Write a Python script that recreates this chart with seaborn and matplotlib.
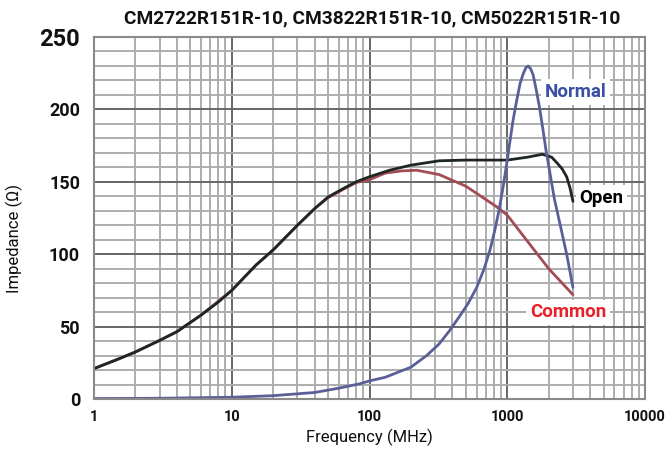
import numpy as np
import pandas as pd
import matplotlib
matplotlib.use("Agg")
import matplotlib.pyplot as plt
import seaborn as sns
from matplotlib.ticker import FixedLocator, NullFormatter

sns.set_theme(style="white")
plt.rcParams["font.family"] = ["Roboto", "DejaVu Sans"]

# Values
open_freq = [1, 1.5, 2, 3, 4, 6, 8, 10, 15, 20, 30, 40, 50, 65, 80, 100, 140,
             200, 320, 500, 1000, 1400, 1800, 2100, 2300, 2500, 2700, 2850,
             3000]
open_imp = [21, 27.5, 32.5, 40.5, 46.5, 58, 67, 75, 92.5, 103, 120, 131.5,
            139.5, 145.5, 150, 153.5, 158, 161.5, 164.5, 165, 165, 167, 169,
            167, 163, 159, 153.5, 146, 136.5]

common_freq = [1, 2, 3, 4, 6, 10, 15, 20, 30, 40, 50, 65, 80, 100, 130, 170,
               220, 320, 500, 830, 1000, 1400, 2000, 3000]
common_imp = [21, 32.5, 40.5, 46.5, 58, 75, 92.5, 103, 120, 131.5, 139, 145,
              149.5, 151.5, 156, 157.5, 158, 155, 147, 133, 127, 109, 90, 72]

normal_freq = [1, 3, 10, 20, 40, 60, 85, 100, 130, 200, 260, 320, 380, 450,
               520, 600, 680, 750, 810, 870, 935, 1000, 1050, 1100, 1170,
               1240, 1310, 1370, 1420, 1480, 1540, 1620, 1710, 1810, 1910,
               2050, 2200, 2400, 2700, 3000]
normal_imp = [0.3, 0.5, 1.2, 2.3, 4.5, 7.5, 10.5, 12.5, 15, 22, 30, 38, 47,
              57, 66, 77, 90, 103, 116, 130, 147, 165, 179, 192, 206, 218,
              225, 229, 230, 228, 224, 214, 202, 187, 172, 155, 138, 122, 100,
              77]

series_names = ["Common", "Open", "Normal"]
series_colors = {"Open": "#1f2723", "Common": "#a24c55", "Normal": "#5a5f98"}
label_colors = {"Open": "#000000", "Common": "#e8202a", "Normal": "#3a4fa3"}

x_ticks = [1, 10, 100, 1000, 10000]
y_ticks = [0, 50, 100, 150, 200, 250]

df = pd.concat([
    pd.DataFrame({"freq": common_freq, "imp": common_imp, "series": "Common"}),
    pd.DataFrame({"freq": open_freq, "imp": open_imp, "series": "Open"}),
    pd.DataFrame({"freq": normal_freq, "imp": normal_imp, "series": "Normal"}),
])

fig = plt.figure(figsize=(6.65, 4.5), dpi=100)
ax = fig.add_axes([94 / 665, 1 - 399 / 450, 551 / 665, 362 / 450])

ax.set_xscale("log")
ax.set_xlim(1, 10000)
ax.set_ylim(0, 250)

# Graph-paper grid
minor_x = [m * 10 ** d for d in range(4) for m in range(2, 10)]
ax.xaxis.set_minor_locator(FixedLocator(minor_x))
ax.xaxis.set_minor_formatter(NullFormatter())
ax.yaxis.set_minor_locator(FixedLocator(np.arange(0, 251, 10)))
ax.set_xticks(x_ticks)
ax.set_xticklabels([str(t) for t in x_ticks])
ax.set_yticks(y_ticks)
ax.grid(which="minor", color="#adadad", linewidth=1.4)
ax.grid(which="major", color="#666666", linewidth=1.4)
ax.set_axisbelow(True)

# draw order: Common under Open, Normal on top
sns.lineplot(data=df, x="freq", y="imp", hue="series", hue_order=series_names,
             palette=series_colors, linewidth=2.0, sort=False, legend=False,
             estimator=None, ax=ax)

for sp in ax.spines.values():
    sp.set_color("#8a8a8a")
    sp.set_linewidth(1.5)

ax.tick_params(axis="both", which="major", length=4, color="#777777",
               direction="out", pad=4)
ax.tick_params(axis="both", which="minor", length=0)
ax.tick_params(axis="y", labelsize=13, pad=6)
ax.tick_params(axis="x", labelsize=10.5)
for lbl in ax.get_yticklabels() + ax.get_xticklabels():
    lbl.set_fontweight("bold")
    lbl.set_color("#111111")
ax.get_yticklabels()[-1].set_fontsize(17)

ax.set_xlabel("Frequency (MHz)", fontsize=12, color="#111111", labelpad=3)
ax.set_ylabel("Impedance (Ω)", fontsize=12, color="#111111", labelpad=8)
ax.yaxis.set_label_coords(-0.128, 0.442)

# Curve labels
label_pos = {"Normal": (1875, 212), "Open": (3350, 139), "Common": (1460, 60)}
for name in series_names:
    lx, ly = label_pos[name]
    ax.text(lx, ly, name, color=label_colors[name], fontsize=13.5,
            fontweight="bold", va="center", ha="left",
            bbox=dict(facecolor="white", edgecolor="none", pad=2.5))

fig.text(0.56, 0.958, "CM2722R151R-10, CM3822R151R-10, CM5022R151R-10",
         ha="center", va="center", fontsize=13.8, fontweight="bold",
         color="#111111")

fig.savefig("out.png", dpi=100)
plt.close(fig)
